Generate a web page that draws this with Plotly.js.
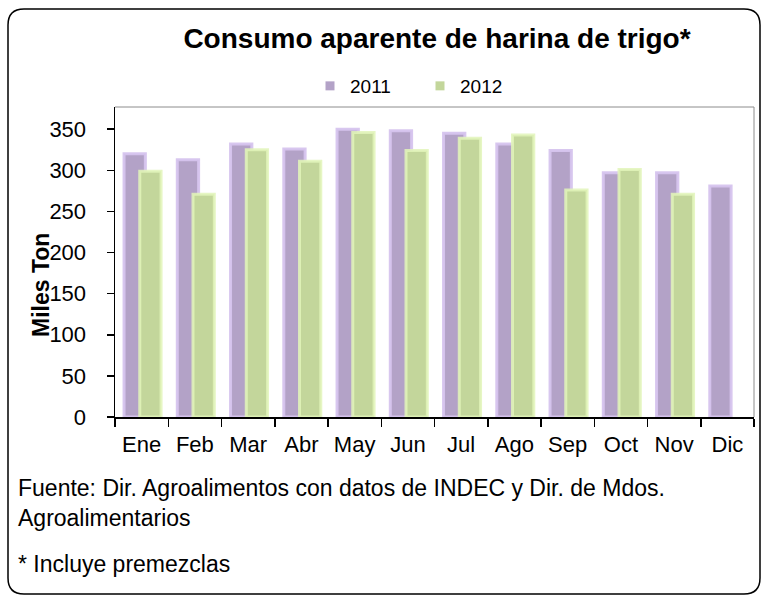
<!DOCTYPE html>
<html>
<head>
<meta charset="utf-8">
<script src="https://cdn.plot.ly/plotly-3.0.1.min.js"></script>
<style>html,body{margin:0;padding:0;background:#fff;}#chart{width:765px;height:599px;}</style>
</head>
<body>
<div id="chart"></div>
<script>
const months = ["Ene","Feb","Mar","Abr","May","Jun","Jul","Ago","Sep","Oct","Nov","Dic"];
const values2011 = [320, 313, 332, 326, 350, 348, 345, 332, 324, 297, 297, 281];
const values2012 = [299, 271, 325, 311, 346, 324, 339, 343, 276, 301, 271, null];
const seriesNames = ["2011", "2012"];
const seriesColors = ["#b3a2c7", "#c3d69b"];
const yTicks = [0, 50, 100, 150, 200, 250, 300, 350];

// plot-area pixel geometry (for converting decoration positions)
const W = 765, H = 599;
const PL = 115, PR = 754, PT = 107, PB = 417;
const X = px => (px - PL) / (PR - PL);
const Y = py => (PB - py) / (PB - PT);

const FONT = "Liberation Sans, Arial, sans-serif";

const traces = [
  {
    type: "bar", name: seriesNames[0], x: months, y: values2011,
    width: 0.40, offset: -0.33, showlegend: false, legendgroup: "a",
    marker: {color: seriesColors[0], line: {color: "rgba(214,196,238,0.95)", width: 3}},
    hoverinfo: "x+y"
  },
  {
    type: "bar", name: seriesNames[1], x: months, y: values2012,
    width: 0.40, offset: -0.035, showlegend: false, legendgroup: "b",
    marker: {color: seriesColors[1], line: {color: "rgba(226,245,186,0.85)", width: 3}},
    hoverinfo: "x+y"
  },
  // legend entries (small square keys, as in the reference)
  {
    type: "scatter", mode: "markers", name: seriesNames[0], legendgroup: "a",
    x: [months[0]], y: [null],
    marker: {symbol: "square", size: 9, color: seriesColors[0]}
  },
  {
    type: "scatter", mode: "markers", name: seriesNames[1], legendgroup: "b",
    x: [months[0]], y: [null],
    marker: {symbol: "square", size: 9, color: seriesColors[1]}
  }
];

// rounded outer border path
const bl = 8, br = 760, bt = 9, bb = 594, r = 16;
const borderPath =
  `M${X(bl + r)},${Y(bt)} L${X(br - r)},${Y(bt)} Q${X(br)},${Y(bt)} ${X(br)},${Y(bt + r)} ` +
  `L${X(br)},${Y(bb - r)} Q${X(br)},${Y(bb)} ${X(br - r)},${Y(bb)} ` +
  `L${X(bl + r)},${Y(bb)} Q${X(bl)},${Y(bb)} ${X(bl)},${Y(bb - r)} ` +
  `L${X(bl)},${Y(bt + r)} Q${X(bl)},${Y(bt)} ${X(bl + r)},${Y(bt)} Z`;

const layout = {
  width: W, height: H,
  margin: {l: PL, r: W - PR, t: PT, b: H - PB, pad: 0},
  paper_bgcolor: "#ffffff", plot_bgcolor: "#ffffff",
  barmode: "overlay",
  showlegend: true,
  font: {family: FONT, color: "#000000", size: 22},
  title: {
    text: "<b>Consumo aparente de harina de trigo*</b>",
    font: {family: FONT, size: 28, color: "#000000"},
    xref: "paper", x: X(437), xanchor: "center",
    yref: "container", y: 1 - 38 / H, yanchor: "middle"
  },
  legend: {
    orientation: "h", x: X(310), xanchor: "left", y: Y(86), yanchor: "middle",
    font: {family: FONT, size: 19, color: "#000000"},
    itemwidth: 30, tracegroupgap: 0, bgcolor: "rgba(0,0,0,0)",
    entrywidth: 65, entrywidthmode: "pixels"
  },
  xaxis: {
    type: "category", categoryorder: "array", categoryarray: months,
    range: [-0.5, 11.5],
    showline: true, linecolor: "#000000", linewidth: 1.5,
    ticks: "outside", ticklen: 8, tickwidth: 1.5, tickcolor: "#000000",
    tickson: "boundaries",
    tickfont: {family: FONT, size: 22, color: "#000000"},
    ticklabelstandoff: 7,
    showgrid: false, zeroline: false, fixedrange: true
  },
  yaxis: {
    range: [0, 377], tickmode: "array", tickvals: yTicks, ticktext: yTicks.map(String),
    showline: true, linecolor: "#000000", linewidth: 1.5,
    ticks: "outside", ticklen: 7, tickwidth: 1.5, tickcolor: "#000000",
    tickfont: {family: FONT, size: 22, color: "#000000"},
    ticklabelstandoff: 16,
    showgrid: false, zeroline: false, fixedrange: true
  },
  shapes: [
    {type: "path", xref: "paper", yref: "paper", path: borderPath,
     line: {color: "#000000", width: 1.5}, fillcolor: "rgba(0,0,0,0)", layer: "below"},
    {type: "path", xref: "paper", yref: "paper",
     path: `M0,1 L1,1 L1,0`, line: {color: "#8c8c8c", width: 1}, layer: "above"}
  ],
  annotations: [
    {text: "<b>Miles Ton</b>", textangle: -90, xref: "paper", yref: "paper",
     x: X(41), y: Y(285), xanchor: "center", yanchor: "middle", showarrow: false,
     font: {family: FONT, size: 23, color: "#000000"}},
    {text: "Fuente: Dir. Agroalimentos con datos de INDEC y Dir. de Mdos.<br>Agroalimentarios",
     xref: "paper", yref: "paper", align: "left",
     x: X(16), y: Y(503), xanchor: "left", yanchor: "middle", showarrow: false,
     font: {family: FONT, size: 23, color: "#000000"}},
    {text: "* Incluye premezclas", xref: "paper", yref: "paper",
     x: X(16), y: Y(564), xanchor: "left", yanchor: "middle", showarrow: false,
     font: {family: FONT, size: 23, color: "#000000"}}
  ]
};

Plotly.newPlot("chart", traces, layout, {displayModeBar: false, staticPlot: true});
</script>
</body>
</html>
